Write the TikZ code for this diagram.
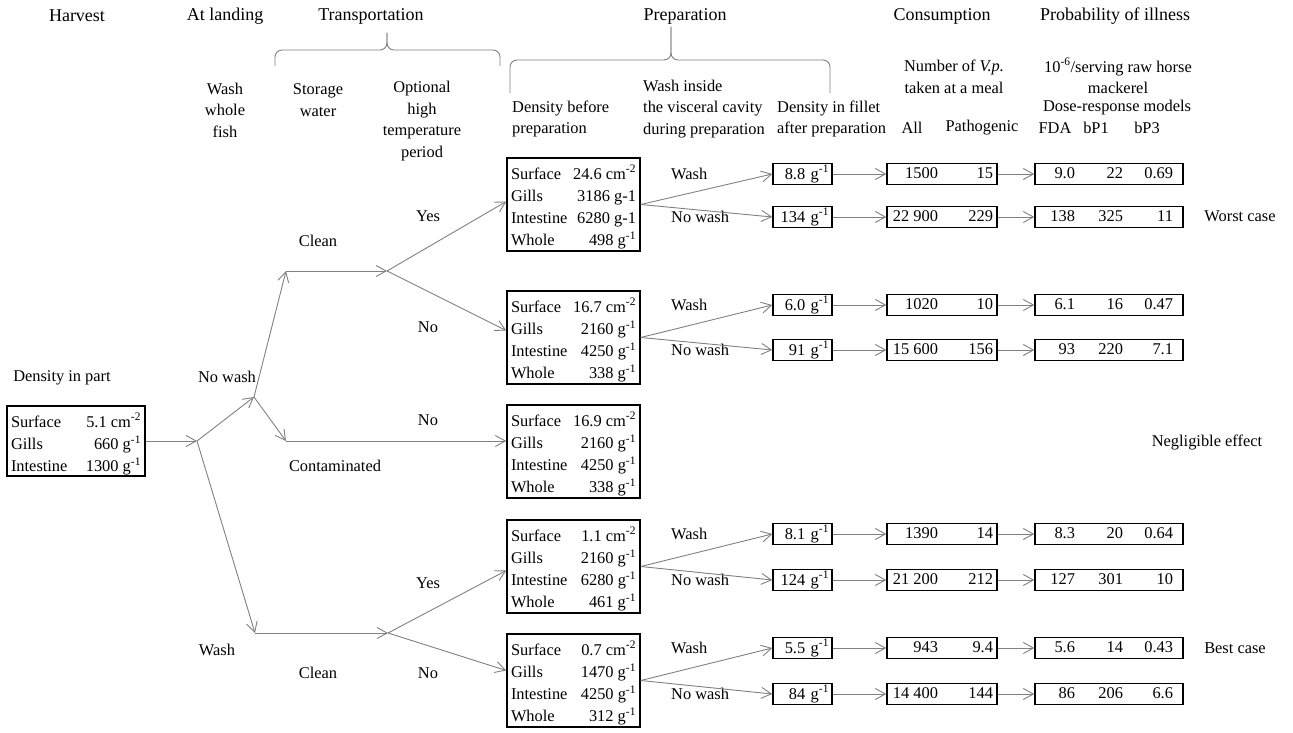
\documentclass[tikz,border=0pt]{standalone}
\usepackage{fontspec}
\setmainfont{Liberation Serif}
\usepackage{array}
\usepackage{tikz}
\usetikzlibrary{arrows.meta,calc}
\newcolumntype{R}[1]{>{\raggedleft\arraybackslash}p{#1}}
\newcolumntype{L}[1]{>{\raggedright\arraybackslash}p{#1}}
\newcommand{\pergram}{~g\textsuperscript{-1}}
\newcommand{\persqcm}{~cm\textsuperscript{-2}}

\begin{document}
\begin{tikzpicture}[x=1pt, y=-1pt,
    every node/.style={font=\fontsize{16.4}{21.5}\selectfont},
    head/.style={font=\fontsize{18}{22}\selectfont},
    sub/.style={align=center, inner sep=0pt},
    part/.style={draw, line width=1.5pt, inner sep=0pt, minimum width=138pt, minimum height=70pt, font=\fontsize{16.4}{22.3}\selectfont},
    prep/.style={draw, line width=1.5pt, inner sep=0pt, minimum width=133pt, minimum height=93pt, font=\fontsize{16.4}{22.3}\selectfont},
    fil/.style={draw, line width=1.5pt, inner ysep=0pt, inner xsep=3pt, text width=53pt, align=right, minimum height=21pt},
    cons/.style={draw, line width=1.5pt, inner sep=0pt, minimum height=21pt, font=\fontsize{16.4}{21}\selectfont},
    arrow/.style={->, draw=black!50, line width=0.9pt},
    bracket/.style={draw=black!50, line width=0.9pt, rounded corners=7pt},
    >={Straight Barb[length=10pt,width=11pt]}
]
    \useasboundingbox (0,0) rectangle (1293,733);

    % Titres
    \node[head] (hHarvest) at (77,16) {Harvest};
    \node[head] (hLanding) at (225,16) {At landing};
    \node[head] (hTransport) at (371,16) {Transportation};
    \node[head] (hPrep) at (685,16) {Preparation};
    \node[head] (hCons) at (942,16) {Consumption};
    \node[head] (hProb) at (1115,16) {Probability of illness};

    % Accolades
    \draw[bracket] (275,66) |- (387,50) -- (387,33);
    \draw[bracket] (387,33) -- (387,50) -| (500,66);
    \draw[bracket] (510,93) |- (671,60) -- (671,27);
    \draw[bracket] (671,27) -- (671,60) -| (830,93);

    % Sous-titres
    \node[sub] (sWash) at (225,110) {Wash\\whole\\fish};
    \node[sub] (sStore) at (318,100) {Storage\\water};
    \node[sub] (sTemp) at (422,121) {Optional\\high\\temperature\\period};
    \node[sub, anchor=west, align=left] (sDens) at (512,119) {Density before\\preparation};
    \node[sub, anchor=west, align=left] (sInside) at (643,109) {Wash inside\\the visceral cavity\\during preparation};
    \node[sub, anchor=west, align=left] (sFillet) at (777,119) {Density in fillet\\after preparation};
    \node[sub] (sNum) at (954,77) {Number of \textit{V.p.}\\taken at a meal};
    \node[sub] (sDose) at (1118,76) {10\textsuperscript{-6}/serving raw horse\\mackerel};
    \node[sub] (sModel) at (1117,108) {Dose-response models};
    \node (sAll) at (912,128) {All};
    \node (sPath) at (982,128) {Pathogenic};
    \node (sFDA) at (1055,128) {FDA};
    \node (sBP1) at (1096,128) {bP1};
    \node (sBP3) at (1147,128) {bP3};

    % Densite initiale
    \node (lPart) at (62,378) {Density in part};
    \node[part] (part) at (76,441) {\raisebox{-4pt}[\height][\depth]{\begin{tabular}{@{\hspace{4pt}}L{60pt}@{}R{70pt}@{\hspace{4pt}}}
        Surface & 5.1\persqcm\\ Gills & 660\pergram\\ Intestine & 1300\pergram\end{tabular}}};

    % Boites avant preparation
    \foreach \n/\yy/\vs/\vg/\vi/\vw in {
        p1/204.5/24.6/{3186 g-1}/{6280 g-1}/498,
        p2/337.5/16.7/{2160\pergram}/{4250\pergram}/338,
        p3/451.5/16.9/{2160\pergram}/{4250\pergram}/338,
        p4/566.5/1.1/{2160\pergram}/{6280\pergram}/461,
        p5/680.5/0.7/{1470\pergram}/{4250\pergram}/312} {
        \node[prep] (\n) at (573.5,\yy) {\raisebox{-3.5pt}[\height][\depth]{\begin{tabular}{@{\hspace{4pt}}L{58pt}@{}R{67pt}@{\hspace{4pt}}}
            Surface & \vs\persqcm\\ Gills & \vg\\ Intestine & \vi\\ Whole & \vw\pergram\end{tabular}}};
    }

    % Arbre de decision
    \coordinate (A) at (197,441);
    \coordinate (B) at (254,397);
    \coordinate (C) at (255,633);
    \coordinate (D) at (286,271);
    \coordinate (E) at (286,441);
    \coordinate (F) at (387,271);
    \coordinate (G) at (388,633);
    \draw[arrow] (part) -- (A);
    \draw[arrow] (A) -- (B);
    \draw[arrow] (A) -- (C);
    \draw[arrow] (B) -- (D);
    \draw[arrow] (B) -- (E);
    \draw[arrow] (D) -- (F);
    \draw[arrow] (C) -- (G);
    \draw[arrow] (F) -- ($(p1.west)+(0,-3)$);
    \draw[arrow] (F) -- ($(p2.west)+(0,-7)$);
    \draw[arrow] (E) -- (E -| p3.west);
    \draw[arrow] (G) -- ($(p4.west)+(0,4)$);
    \draw[arrow] (G) -- ($(p5.west)+(0,-10)$);

    \node (lNoWash) at (227,377) {No wash};
    \node (lWash) at (217,650) {Wash};
    \node (lClean1) at (318,241) {Clean};
    \node (lCont) at (335,466) {Contaminated};
    \node (lClean2) at (318,673) {Clean};
    \node (lYes1) at (428,216) {Yes};
    \node (lNo1) at (428,327) {No};
    \node (lNo2) at (428,420) {No};
    \node (lYes2) at (428,583) {Yes};
    \node (lNo3) at (428,673) {No};

    % Filet, consommation, probabilite
    \foreach \k/\yy/\src/\lab/\fil/\all/\pat/\fda/\bpa/\bpb in {
        1/174/p1/Wash/8.8/1500/15/9.0/22/0.69,
        2/217/p1/No wash/134/22~900/229/138/325/11,
        3/305/p2/Wash/6.0/1020/10/6.1/16/0.47,
        4/350/p2/No wash/91/15~600/156/93/220/7.1,
        5/534/p4/Wash/8.1/1390/14/8.3/20/0.64,
        6/580/p4/No wash/124/21~200/212/127/301/10,
        7/648/p5/Wash/5.5/943/9.4/5.6/14/0.43,
        8/694/p5/No wash/84/14~400/144/86/206/6.6} {
        \node[fil] (f\k) at (802.5,\yy) {\fil\pergram};
        \node[cons] (c\k) at (942,\yy) {\begin{tabular}{@{\hspace{4pt}}R{47pt}@{}R{55pt}@{\hspace{4pt}}}\all & \pat\end{tabular}};
        \node[cons] (r\k) at (1109,\yy) {\begin{tabular}{@{\hspace{4pt}}R{36pt}@{}R{48pt}@{}R{50pt}@{\hspace{10pt}}}\fda & \bpa & \bpb\end{tabular}};
        \node[anchor=west, inner xsep=0pt] (w\k) at (671,\yy) {\lab};
        \draw[arrow] (\src.east) -- (f\k.west);
        \draw[arrow] (f\k) -- (c\k);
        \draw[arrow] (c\k) -- (r\k);
    }

    % Remarques
    \node (worst) at (1240,216) {Worst case};
    \node (negl) at (1207,442) {Negligible effect};
    \node (best) at (1235,648) {Best case};
\end{tikzpicture}
\end{document}
